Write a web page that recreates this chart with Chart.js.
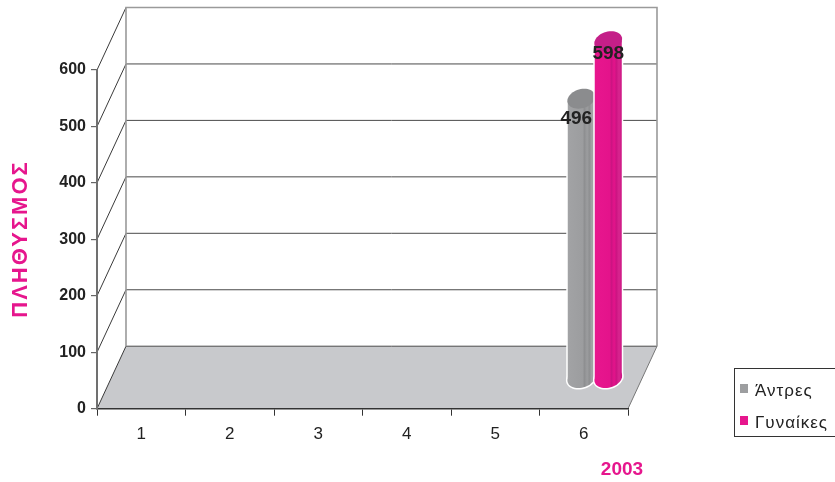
<!DOCTYPE html>
<html>
<head>
<meta charset="utf-8">
<script src="https://cdn.jsdelivr.net/npm/chart.js@4/dist/chart.umd.min.js"></script>
<style>
  html, body { margin: 0; padding: 0; background: #ffffff; }
  #wrap { width: 835px; height: 482px; }
</style>
</head>
<body>
<div id="wrap"><canvas id="c" width="835" height="482"></canvas></div>
<script>
// ---- data ----
const categories = ['1', '2', '3', '4', '5', '6'];
const menValues = [null, null, null, null, null, 496];
const womenValues = [null, null, null, null, null, 598];
const seriesNames = ['Άντρες', 'Γυναίκες'];
const yAxisTitle = 'ΠΛΗΘΥΣΜΟΣ';
const xAxisTitle = '2003';
const yMin = 0, yMax = 600, yStep = 100;

// ---- styles ----
const FONT = '"Liberation Sans", Arial, Helvetica, sans-serif';
const PINK = '#e6168d';
const GRAY = '#9d9ea0';
const DEPTH = { dx: 29, dy: -62.5 };       // back wall offset
const BAR_DEPTH = { dx: 11, dy: -30 };     // bars stand mid-depth
const ELL = { b: 10, sx: 3 };

function ellipsePath(ctx, cx, cy, a, b, sx) {
  ctx.beginPath();
  const n = 48;
  for (let i = 0; i <= n; i++) {
    const t = i / n * Math.PI * 2;
    const x = cx + a * Math.cos(t) + sx * Math.sin(t);
    const y = cy - b * Math.sin(t);
    if (i === 0) ctx.moveTo(x, y); else ctx.lineTo(x, y);
  }
  ctx.closePath();
}

const walls3d = {
  id: 'walls3d',
  beforeDraw(chart) {
    const ctx = chart.ctx;
    const a = chart.chartArea;
    const ys = chart.scales.y;
    const L = a.left, R = a.right, B = ys.getPixelForValue(yMin), T = ys.getPixelForValue(yMax);
    const dx = DEPTH.dx, dy = DEPTH.dy;
    ctx.save();
    ctx.fillStyle = '#c8c9cc';
    ctx.beginPath();
    ctx.moveTo(L, B); ctx.lineTo(R, B); ctx.lineTo(R + dx, B + dy); ctx.lineTo(L + dx, B + dy);
    ctx.closePath(); ctx.fill();
    ctx.lineWidth = 1;
    for (let v = yMin; v <= yMax; v += yStep) {
      const y = ys.getPixelForValue(v);
      ctx.strokeStyle = '#3a3a3a';
      ctx.beginPath(); ctx.moveTo(L, y); ctx.lineTo(L + dx, y + dy); ctx.stroke();
      if (v < yMax) {
        ctx.strokeStyle = '#4a4a4a';
        ctx.beginPath(); ctx.moveTo(L + dx, y + dy); ctx.lineTo(R + dx, y + dy); ctx.stroke();
      }
    }
    ctx.strokeStyle = '#9a9a9a';
    ctx.lineWidth = 1.6;
    ctx.beginPath();
    ctx.moveTo(L + dx, B + dy); ctx.lineTo(L + dx, T + dy); ctx.lineTo(R + dx, T + dy); ctx.lineTo(R + dx, B + dy);
    ctx.stroke();
    ctx.strokeStyle = '#777';
    ctx.lineWidth = 1;
    ctx.beginPath(); ctx.moveTo(R, B); ctx.lineTo(R + dx, B + dy); ctx.stroke();
    ctx.restore();
  }
};

const cylinders = {
  id: 'cylinders',
  beforeDatasetsDraw(chart) {
    const ctx = chart.ctx;
    const labels = [];
    chart.data.datasets.forEach((ds, di) => {
      const meta = chart.getDatasetMeta(di);
      meta.data.forEach((el, i) => {
        const raw = ds.data[i];
        if (raw === null || raw === undefined) return;
        const p = el.getProps(['x', 'y', 'base', 'width'], true);
        const cx = p.x + BAR_DEPTH.dx;
        const top = p.y + BAR_DEPTH.dy;
        const base = p.base + BAR_DEPTH.dy;
        const a = p.width / 2;
        ctx.save();
        ctx.strokeStyle = '#ffffff';
        ctx.lineWidth = 3;
        ellipsePath(ctx, cx, base, a, ELL.b, ELL.sx); ctx.stroke();
        ctx.strokeRect(cx - a, top, 2 * a, base - top);
        ellipsePath(ctx, cx, top, a, ELL.b, ELL.sx); ctx.stroke();
        const g = ctx.createLinearGradient(cx - a, 0, cx + a, 0);
        const s = ds.shade;
        g.addColorStop(0, s[0]); g.addColorStop(0.55, s[1]); g.addColorStop(0.62, s[2]);
        g.addColorStop(0.72, s[1]); g.addColorStop(0.8, s[2]); g.addColorStop(0.9, s[3]); g.addColorStop(1, s[2]);
        ctx.fillStyle = g;
        ellipsePath(ctx, cx, base, a, ELL.b, ELL.sx); ctx.fill();
        ctx.fillRect(cx - a, top, 2 * a, base - top);
        ctx.fillStyle = ds.topColor;
        ellipsePath(ctx, cx, top, a, ELL.b, ELL.sx); ctx.fill();
        ctx.restore();
        labels.push({ text: String(raw), x: cx + ds.labelDx, y: top + ds.labelDy });
      });
    });
    ctx.save();
    ctx.font = 'bold 19px ' + FONT;
    ctx.fillStyle = '#222222';
    ctx.textAlign = 'center';
    ctx.textBaseline = 'middle';
    labels.forEach(l => ctx.fillText(l.text, l.x, l.y));
    ctx.restore();
    return false;
  }
};

const extras = {
  id: 'extras',
  afterDraw(chart) {
    const ctx = chart.ctx;
    ctx.save();
    ctx.fillStyle = PINK;
    ctx.font = 'bold 22px ' + FONT;
    ctx.textAlign = 'center';
    ctx.textBaseline = 'middle';
    if ('letterSpacing' in ctx) ctx.letterSpacing = '2px';
    ctx.translate(21, 240);
    ctx.rotate(-Math.PI / 2);
    ctx.fillText(yAxisTitle, 1, 0);
    ctx.restore();
    ctx.save();
    ctx.fillStyle = PINK;
    ctx.font = 'bold 19px ' + FONT;
    ctx.textAlign = 'center';
    ctx.textBaseline = 'alphabetic';
    ctx.fillText(xAxisTitle, 622, 475);
    ctx.restore();
    ctx.save();
    ctx.strokeStyle = '#333';
    ctx.lineWidth = 1;
    ctx.strokeRect(734.5, 368.5, 120, 68);
    ctx.font = '17px ' + FONT;
    ctx.textBaseline = 'alphabetic';
    ctx.textAlign = 'left';
    if ('letterSpacing' in ctx) ctx.letterSpacing = '1px';
    const rows = [396, 428];
    chart.data.datasets.forEach((ds, i) => {
      ctx.fillStyle = ds.backgroundColor;
      ctx.fillRect(740, rows[i] - 12, 8, 9);
      ctx.fillStyle = '#222';
      ctx.fillText(ds.label, 755, rows[i]);
    });
    ctx.restore();
  }
};

new Chart(document.getElementById('c'), {
  type: 'bar',
  data: {
    labels: categories,
    datasets: [
      {
        label: seriesNames[0], data: menValues, backgroundColor: GRAY,
        shade: ['#a2a3a5', '#9c9d9f', '#8e8f91', '#a5a6a8'], topColor: '#8b8c8e',
        labelDx: -5, labelDy: 20
      },
      {
        label: seriesNames[1], data: womenValues, backgroundColor: PINK,
        shade: ['#e8168e', '#e4138b', '#cc1482', '#d8268f'], topColor: '#c41f88',
        labelDx: 0, labelDy: 13
      }
    ]
  },
  options: {
    responsive: false,
    animation: false,
    devicePixelRatio: 1,
    layout: { padding: { top: 70, right: 207, bottom: 0, left: 0 } },
    datasets: { bar: { categoryPercentage: 0.61, barPercentage: 1.0 } },
    plugins: { legend: { display: false }, tooltip: { enabled: false }, title: { display: false } },
    scales: {
      x: {
        offset: true,
        grid: { offset: true, drawOnChartArea: false, drawTicks: true, tickLength: 7, color: '#333', lineWidth: 1 },
        border: { display: true, color: '#333', width: 1.5 },
        ticks: { font: { family: FONT, size: 17 }, color: '#222', padding: 8, maxRotation: 0 },
        afterFit(s) { s.height = 73.3; }
      },
      y: {
        min: yMin, max: yMax,
        grid: { drawOnChartArea: false, drawTicks: true, tickLength: 6, color: '#666', lineWidth: 1.2 },
        border: { display: true, color: '#707070', width: 2 },
        ticks: { stepSize: yStep, font: { family: FONT, size: 16, weight: 'bold' }, color: '#222', padding: 5 },
        afterFit(s) { s.width = 97; }
      }
    }
  },
  plugins: [walls3d, cylinders, extras]
});
</script>
</body>
</html>
